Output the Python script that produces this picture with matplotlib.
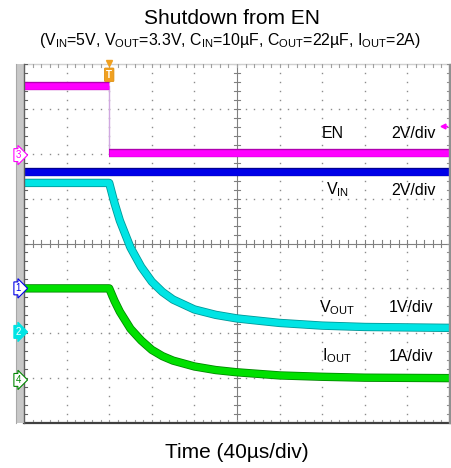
import matplotlib

matplotlib.use("Agg")
import matplotlib.pyplot as plt
import numpy as np
from matplotlib.patches import Rectangle, FancyBboxPatch

plt.rcParams["font.family"] = ["Liberation Sans", "DejaVu Sans"]
plt.rcParams["mathtext.fontset"] = "custom"
plt.rcParams["mathtext.rm"] = "Liberation Sans"

W, H, DPI = 451, 468, 100

# scope screen: 10 x 8 divisions, 40 us/div, trigger at 2 div
T_DIV = 40.0
TRIG_T = 80.0

# channel ground position (div) and scale (unit/div)
EN_GND, EN_SCALE = 5.97, 2.0
VIN_GND, VIN_SCALE = 3.0, 2.0
VOUT_GND, VOUT_SCALE = 2.03, 1.0
IOUT_GND, IOUT_SCALE = 0.96, 1.0

# EN (V): high before the trigger, low after it
en_t = [0.0, 80.0, 80.0, 400.0]
en_v = [3.1, 3.1, 0.08, 0.08]

# VIN (V)
vin_t = [0.0, 400.0]
vin_v = [5.2, 5.2]

# VOUT (V) and IOUT (A)
dec_t = [0, 80, 85, 90, 100, 110, 120, 130, 140, 160, 180, 200, 240, 280, 320, 360, 400]
vout_v = [3.32, 3.32, 2.87, 2.48, 1.88, 1.45, 1.12, 0.89, 0.72, 0.50, 0.38, 0.30,
          0.20, 0.14, 0.11, 0.10, 0.09]
iout_v = [2.04, 2.04, 1.76, 1.52, 1.14, 0.88, 0.67, 0.53, 0.43, 0.30, 0.22, 0.17,
          0.10, 0.07, 0.05, 0.045, 0.04]

MAGENTA, MAG_EDGE = "#ff00ff", "#b000b0"
BLUE, BLUE_EDGE = "#0000e8", "#000090"
CYAN, CYAN_EDGE = "#00e4e4", "#009898"
GREEN, GREEN_EDGE = "#00e000", "#008800"
DOT = "#8c8c8c"


def to_screen(t, v, gnd, scale):
    return np.asarray(t) / T_DIV, gnd + np.asarray(v) / scale


def trace(ax, x, y, color, edge, lw=4.8, z=3):
    ax.plot(x, y, color=edge, lw=lw + 1.2, solid_capstyle="butt", zorder=z)
    ax.plot(x, y, color=color, lw=lw, solid_capstyle="butt", zorder=z + 0.1)


fig = plt.figure(figsize=(W / DPI, H / DPI), dpi=DPI)
ax = fig.add_axes([24 / W, 45 / H, 426 / W, 359 / H])
ax.set_xlim(0, 10)
ax.set_ylim(0, 8)
ax.axis("off")

# graticule dots
for i in range(1, 10):
    if i != 5:
        ys = np.arange(0, 8.01, 0.2)
        ax.plot(np.full_like(ys, i), ys, "s", ms=1.0, color=DOT, mew=0, zorder=1)
for j in range(1, 8):
    if j != 4:
        xs = np.arange(0, 10.01, 0.2)
        ax.plot(xs, np.full_like(xs, j), "s", ms=1.0, color=DOT, mew=0, zorder=1)

# center lines with minor ticks
ax.axvline(5, color="#808080", lw=0.8, zorder=1)
ax.axhline(4, color="#808080", lw=0.8, zorder=1)
for y in np.arange(0, 8.01, 0.2):
    ax.plot([4.93, 5.07], [y, y], color="#808080", lw=0.8, zorder=1)
for x in np.arange(0, 10.01, 0.2):
    ax.plot([x, x], [3.93, 4.07], color="#808080", lw=0.8, zorder=1)

# frame: top light, right gray, bottom dark, left panel
ax.plot([0, 10], [8, 8], color="#d0d0d0", lw=1.0, clip_on=False, zorder=1)
for x in np.arange(0, 10.01, 0.2):
    ax.plot([x, x], [8, 7.94], color="#a0a0a0", lw=0.8, zorder=1)
    ax.plot([x, x], [0, 0.06], color="#a0a0a0", lw=0.8, zorder=1)
for y in np.arange(0, 8.01, 0.2):
    ax.plot([0, 0.07], [y, y], color="#606060", lw=0.8, zorder=1)
    ax.plot([10, 9.93], [y, y], color="#909090", lw=0.8, zorder=1)
ax.plot([0, 10], [0, 0], color="#404040", lw=1.6, clip_on=False, zorder=6)
ax.add_patch(Rectangle((9.97, 0), 0.05, 8, color="#909090", clip_on=False, zorder=6))
ax.add_patch(Rectangle((-0.19, 0), 0.19, 8, facecolor="#c8c8c8", edgecolor="none",
                       clip_on=False, zorder=6))
ax.plot([0, 0], [0, 8], color="#606060", lw=1.0, clip_on=False, zorder=6)
ax.plot([-0.19, -0.19], [0, 8], color="#a8a8a8", lw=0.8, clip_on=False, zorder=6)

# traces
x, y = to_screen(dec_t, vout_v, VOUT_GND, VOUT_SCALE)
trace(ax, x, y, CYAN, CYAN_EDGE, z=2)
x, y = to_screen(dec_t, iout_v, IOUT_GND, IOUT_SCALE)
trace(ax, x, y, GREEN, GREEN_EDGE, z=2.5)
x, y = to_screen(vin_t, vin_v, VIN_GND, VIN_SCALE)
trace(ax, x, y, BLUE, BLUE_EDGE, z=3)
x, y = to_screen(en_t, en_v, EN_GND, EN_SCALE)
ax.plot(x[1:3], y[1:3], color="#d0a8e0", lw=1.0, zorder=3.5)
trace(ax, x[:2], y[:2], MAGENTA, MAG_EDGE, z=4)
trace(ax, x[2:], y[2:], MAGENTA, MAG_EDGE, z=4)

# trigger marker
tx = TRIG_T / T_DIV
ax.plot([tx], [8.03], "v", color="#f0a020", ms=5, clip_on=False, zorder=7)
ax.add_patch(FancyBboxPatch((tx - 0.09, 7.63), 0.18, 0.26,
                            boxstyle="round,pad=0.02", fc="#f0a020", ec="#e09010",
                            lw=0.6, clip_on=False, zorder=7))
ax.text(tx, 7.76, "T", color="white", fontsize=7, ha="center", va="center",
        fontweight="bold", zorder=8)

# EN trigger level arrow on the right
ax.plot([9.83, 9.93], [6.62, 6.62], color=MAGENTA, lw=1.0, zorder=7)
ax.plot([9.83], [6.62], "<", color=MAGENTA, ms=3.5, zorder=7)

# channel ground tags
tags = [("3", EN_GND, MAGENTA, "white"), ("1", VIN_GND, BLUE, "white"),
        ("2", VOUT_GND, CYAN, CYAN), ("4", IOUT_GND, GREEN_EDGE, "white")]
for lab, gy, col, fc in tags:
    ax.text(-0.14, gy, lab, fontsize=7, color=col if fc == "white" else "white",
            ha="center", va="center", clip_on=False, zorder=9,
            bbox=dict(boxstyle="rarrow,pad=0.15", fc=fc, ec=col, lw=0.8))

# channel labels
lab_kw = dict(fontsize=11.5, ha="center", va="center", zorder=8)
ax.text(7.25, 6.46, "EN", **lab_kw)
ax.text(9.13, 6.46, "2V/div", **lab_kw)
ax.text(7.37, 5.19, r"$\mathregular{V_{IN}}$", **lab_kw)
ax.text(9.13, 5.19, "2V/div", **lab_kw)
ax.text(7.35, 2.58, r"$\mathregular{V_{OUT}}$", **lab_kw)
ax.text(9.08, 2.58, "1V/div", **lab_kw)
ax.text(7.35, 1.49, r"$\mathregular{I_{OUT}}$", **lab_kw)
ax.text(9.08, 1.49, "1A/div", **lab_kw)

# titles
fig.text(232 / W, 1 - 19 / H, "Shutdown from EN", fontsize=15, ha="center", va="center")
fig.text(230 / W, 1 - 41 / H,
         r"($\mathregular{V_{IN}}$=5V, $\mathregular{V_{OUT}}$=3.3V, "
         r"$\mathregular{C_{IN}}$=10µF, $\mathregular{C_{OUT}}$=22µF, "
         r"$\mathregular{I_{OUT}}$=2A)",
         fontsize=11.4, ha="center", va="center")
fig.text(237 / W, 1 - 453 / H, "Time (40µs/div)", fontsize=15, ha="center", va="center")

fig.savefig("out.png", dpi=DPI)
